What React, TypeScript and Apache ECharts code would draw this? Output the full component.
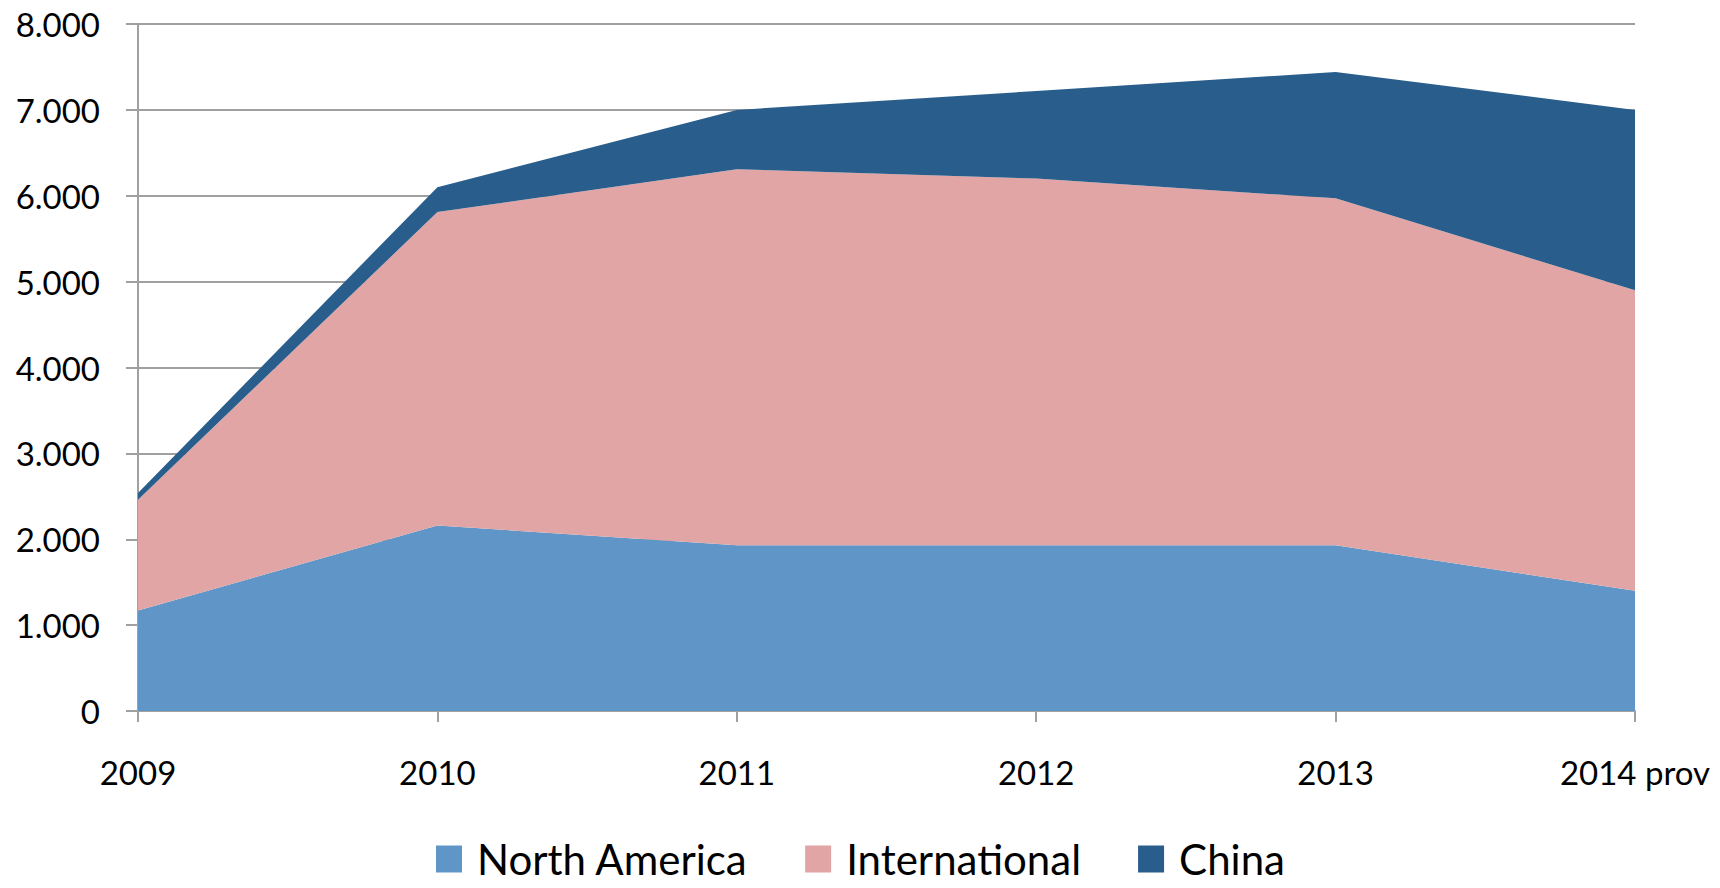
import React, { useEffect, useRef } from "react";
import * as echarts from "echarts";

const categories = ["2009", "2010", "2011", "2012", "2013", "2014 prov"];
const northAmerica = [1170, 2160, 1930, 1930, 1930, 1400];
const international = [1290, 3650, 4380, 4270, 4040, 3500];
const china = [80, 290, 690, 1020, 1470, 2100];
const seriesNames = ["North America", "International", "China"];
const colors = ["#6096C7", "#E1A5A5", "#285D8C"];

export default function App() {
  const ref = useRef<HTMLDivElement>(null);
  useEffect(() => {
    if (!ref.current) return;
    const chart = echarts.init(ref.current, null, { renderer: "svg" });
    const font = "Lato";
    const data = [northAmerica, international, china];
    chart.setOption({
      animation: false,
      backgroundColor: "#ffffff",
      grid: { left: 138, right: 85, top: 24, bottom: 177, containLabel: false },
      legend: {
        left: 436,
        top: 838,
        padding: 0,
        itemWidth: 26,
        itemHeight: 27,
        itemGap: 57,
        icon: "rect",
        data: seriesNames,
        textStyle: { fontFamily: font, fontSize: 42, lineHeight: 40, color: "#000", padding: [0, 0, 0, 10] },
      },
      xAxis: {
        type: "category",
        data: categories,
        boundaryGap: false,
        axisLine: { lineStyle: { color: "#A0A0A0", width: 2 } },
        axisTick: { show: true, length: 11, lineStyle: { color: "#A0A0A0", width: 2 } },
        axisLabel: { fontFamily: font, fontSize: 33, color: "#000", margin: 44, showMaxLabel: true, showMinLabel: true },
        splitLine: { show: false },
      },
      yAxis: {
        type: "value",
        min: 0,
        max: 8000,
        interval: 1000,
        axisLine: { show: true, lineStyle: { color: "#A0A0A0", width: 2 } },
        axisTick: { show: true, length: 12, lineStyle: { color: "#A0A0A0", width: 2 } },
        axisLabel: {
          fontFamily: font,
          fontSize: 33,
          color: "#000",
          margin: 38,
          formatter: (v: number) => (v === 0 ? "0" : (v / 1000).toFixed(3)),
        },
        splitLine: { show: true, lineStyle: { color: "#A0A0A0", width: 2 } },
      },
      series: seriesNames.map((name, i) => ({
        name,
        type: "line",
        stack: "total",
        data: data[i],
        symbol: "none",
        lineStyle: { width: 0 },
        itemStyle: { color: colors[i] },
        areaStyle: { color: colors[i], opacity: 1 },
      })),
    });
    return () => chart.dispose();
  }, []);
  return (
    <div
      ref={ref}
      style={{ position: "fixed", left: 0, top: 0, width: 1720, height: 888 }}
    />
  );
}
